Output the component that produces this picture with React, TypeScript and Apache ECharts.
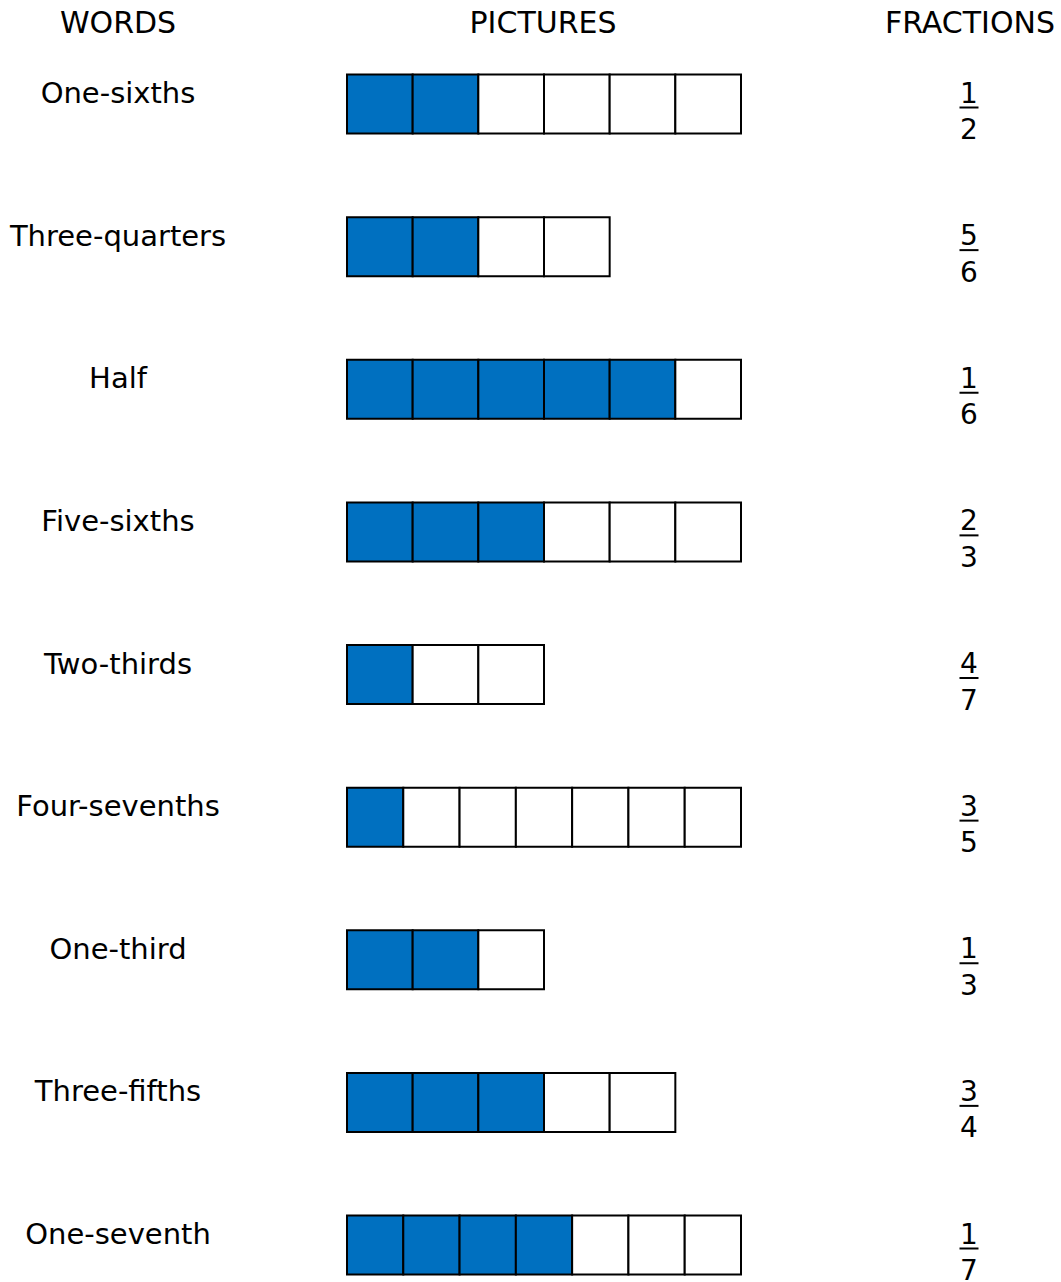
import React, { useEffect, useRef } from "react";
import * as echarts from "echarts";

const headers = ["WORDS", "PICTURES", "FRACTIONS"];
const words = [
  "One-sixths",
  "Three-quarters",
  "Half",
  "Five-sixths",
  "Two-thirds",
  "Four-sevenths",
  "One-third",
  "Three-fifths",
  "One-seventh",
];
const cellCounts = [6, 4, 6, 6, 3, 7, 3, 5, 7];
const shadedCounts = [2, 2, 5, 3, 1, 1, 2, 3, 4];
const numerators = [1, 5, 1, 2, 4, 3, 1, 3, 1];
const denominators = [2, 6, 6, 3, 7, 5, 3, 4, 7];

const FONT = "'DejaVu Sans', Verdana, sans-serif";
const BLUE = "#0070C0";

export default function App() {
  const ref = useRef<HTMLDivElement>(null);

  useEffect(() => {
    if (!ref.current) return;
    const chart = echarts.init(ref.current, undefined, { renderer: "svg" });

    const maxUnits = 6;
    const cellData: any[] = [];
    cellCounts.forEach((n, row) => {
      const w = n > maxUnits ? maxUnits / n : 1;
      for (let i = 0; i < n; i++) {
        cellData.push([i * w, row, i < shadedCounts[row] ? 1 : 0, w]);
      }
    });
    const rowData = numerators.map((n, i) => [0, i, n, denominators[i]]);

    const textEl = (text: string, x: number, y: number, size: number) => ({
      type: "text",
      x,
      y,
      style: {
        text,
        align: "center",
        verticalAlign: "middle",
        font: `${size}px ${FONT}`,
        fill: "#000",
      },
    });

    const option: any = {
      animation: false,
      backgroundColor: "#ffffff",
      grid: { left: 347, right: 320, top: 104, bottom: 37 },
      xAxis: {
        type: "value",
        min: 0,
        max: maxUnits,
        show: false,
      },
      yAxis: {
        type: "category",
        data: words,
        inverse: true,
        boundaryGap: false,
        show: false,
      },
      graphic: [
        { x: 118, y: 22, text: headers[0] },
        { x: 543, y: 22, text: headers[1] },
        { x: 970, y: 22, text: headers[2] },
      ].map((h) => textEl(h.text, h.x, h.y, 30)),
      series: [
        {
          type: "custom",
          data: cellData,
          encode: { x: 0, y: 1 },
          renderItem: (params: any, api: any) => {
            const x0 = api.value(0);
            const row = api.value(1);
            const filled = api.value(2);
            const w = api.value(3);
            const a = api.coord([x0, row]);
            const b = api.coord([x0 + w, row]);
            const h = 59;
            return {
              type: "rect",
              shape: { x: a[0], y: a[1] - h / 2, width: b[0] - a[0], height: h },
              style: {
                fill: filled ? BLUE : "#ffffff",
                stroke: "#000000",
                lineWidth: 2,
              },
            };
          },
        },
        {
          type: "custom",
          data: rowData,
          encode: { x: 0, y: 1 },
          renderItem: (params: any, api: any) => {
            const row = api.value(1);
            const num = api.value(2);
            const den = api.value(3);
            const p = api.coord([0, row]);
            const cs = params.coordSys;
            const cx = cs.x + cs.width + 228;
            const wx = cs.x - 229;
            const cy = p[1];
            return {
              type: "group",
              children: [
                textEl(words[row], wx, cy - 11, 29),
                textEl(String(num), cx, cy - 11, 28),
                {
                  type: "line",
                  shape: { x1: cx - 9.5, y1: cy + 3.5, x2: cx + 9.5, y2: cy + 3.5 },
                  style: { stroke: "#000", lineWidth: 2 },
                },
                textEl(String(den), cx, cy + 25.5, 28),
              ],
            };
          },
        },
      ],
    };

    chart.setOption(option);
    return () => chart.dispose();
  }, []);

  return (
    <div
      ref={ref}
      style={{ position: "absolute", left: 0, top: 0, width: 1061, height: 1282 }}
    />
  );
}
